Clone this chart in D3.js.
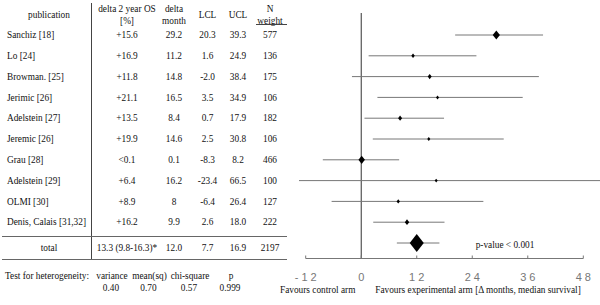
<!DOCTYPE html>
<html>
<head>
<meta charset="utf-8">
<script src="https://cdn.jsdelivr.net/npm/d3@7"></script>
<style>
  body { margin: 0; background: #fff; }
  svg { display: block; }
  .tbl text { font-family: "Liberation Serif", "Times New Roman", serif; font-size: 9.3px; fill: #111; }
  .tick-lbl { font-family: "Liberation Sans", Arial, sans-serif; font-size: 11px; fill: #777; letter-spacing: 3px; }
</style>
</head>
<body>
<div id="chart"></div>
<script>
// table / forest plot data
const publications = ["Sanchiz [18]", "Lo [24]", "Browman. [25]", "Jerimic [26]", "Adelstein [27]",
    "Jeremic [26]", "Grau [28]", "Adelstein [29]", "OLMI [30]", "Denis, Calais [31,32]"];
const deltaOS = ["+15.6", "+16.9", "+11.8", "+21.1", "+13.5", "+19.9", "<0.1", "+6.4", "+8.9", "+16.2"];
const deltaMonth = ["29.2", "11.2", "14.8", "16.5", "8.4", "14.6", "0.1", "16.2", "8", "9.9"];
const lcl = ["20.3", "1.6", "-2.0", "3.5", "0.7", "2.5", "-8.3", "-23.4", "-6.4", "2.6"];
const ucl = ["39.3", "24.9", "38.4", "34.9", "17.9", "30.8", "8.2", "66.5", "26.4", "18.0"];
const weights = ["577", "136", "175", "106", "182", "106", "466", "100", "127", "222"];

const total = {label: "total", os: "13.3 (9.8-16.3)*", month: "12.0", lcl: "7.7", ucl: "16.9", weight: "2197"};

const hetLabels = ["variance", "mean(sq)", "chi-square", "p"];
const hetValues = ["0.40", "0.70", "0.57", "0.999"];

const xTicks = [-12, 0, 12, 24, 36, 48];

const width = 600, height = 305;

const svg = d3.select("#chart").append("svg")
    .attr("width", width)
    .attr("height", height);

// row positions
const y = d3.scaleLinear().domain([0, 1]).range([35, 55.8]);
const totalIdx = publications.length;

// ---------- table ----------
const tbl = svg.append("g").attr("class", "tbl");

const cols = [
    {x: 127, lines: ["delta 2 year OS", "[%]"], vals: deltaOS, tot: total.os},
    {x: 174, lines: ["delta", "month"], vals: deltaMonth, tot: total.month},
    {x: 207.5, lines: ["LCL"], vals: lcl, tot: total.lcl},
    {x: 238, lines: ["UCL"], vals: ucl, tot: total.ucl},
    {x: 270, lines: ["N", "weight"], vals: weights, tot: total.weight}
];

tbl.append("text").attr("x", 49).attr("y", 15).attr("dy", "0.35em")
    .attr("text-anchor", "middle").text("publication");

cols.forEach(c => {
    c.lines.forEach((l, i) => {
        tbl.append("text")
            .attr("x", c.x)
            .attr("y", c.lines.length === 1 ? 15 : 9 + i * 12)
            .attr("dy", "0.35em")
            .attr("text-anchor", "middle")
            .text(l);
    });
    tbl.selectAll(null).data(c.vals).join("text")
        .attr("x", c.x)
        .attr("y", (d, i) => y(i))
        .attr("dy", "0.35em")
        .attr("text-anchor", "middle")
        .text(d => d);
    tbl.append("text")
        .attr("x", c.x)
        .attr("y", y(totalIdx) + 5)
        .attr("dy", "0.35em")
        .attr("text-anchor", "middle")
        .text(c.tot);
});

tbl.selectAll(".pub").data(publications).join("text")
    .attr("class", "pub")
    .attr("x", 7)
    .attr("y", (d, i) => y(i))
    .attr("dy", "0.35em")
    .text(d => d);

tbl.append("text").attr("x", 49).attr("y", y(totalIdx) + 5).attr("dy", "0.35em")
    .attr("text-anchor", "middle").text(total.label);

// table rules
tbl.append("line").attr("x1", 91.5).attr("x2", 91.5).attr("y1", 3).attr("y2", 260)
    .attr("stroke", "#444").attr("stroke-width", 1);
tbl.append("line").attr("x1", 256).attr("x2", 287).attr("y1", 24.5).attr("y2", 24.5)
    .attr("stroke", "#444").attr("stroke-width", 1);
[236.5, 259.5].forEach(ly => {
    tbl.append("line").attr("x1", 2).attr("x2", 287).attr("y1", ly).attr("y2", ly)
        .attr("stroke", "#666").attr("stroke-width", 1);
});

// heterogeneity
tbl.append("text").attr("x", 5).attr("y", 276).attr("dy", "0.35em").text("Test for heterogeneity:");
const hetX = [112, 149.5, 190, 231];
hetLabels.forEach((l, i) => {
    tbl.append("text").attr("x", hetX[i]).attr("y", 276).attr("dy", "0.35em")
        .attr("text-anchor", "middle").text(l);
    tbl.append("text").attr("x", hetX[i] - 1).attr("y", 288).attr("dy", "0.35em")
        .attr("text-anchor", "middle").text(hetValues[i]);
});

// ---------- forest plot ----------
const x = d3.scaleLinear().domain([-12, 48]).range([305.7, 583.3]);
const size = d3.scaleSqrt().domain([0, 2197]).range([0, 9]);
const axisY = 258.5;

svg.append("clipPath").attr("id", "plotClip")
    .append("rect").attr("x", 299).attr("y", 0).attr("width", 301).attr("height", height);

const plot = svg.append("g").attr("clip-path", "url(#plotClip)");

// zero line
plot.append("line")
    .attr("x1", x(0)).attr("x2", x(0))
    .attr("y1", 13).attr("y2", axisY)
    .attr("stroke", "#333").attr("stroke-width", 1);

const rows = publications.map((p, i) => ({
    y: y(i), mid: +deltaMonth[i], lo: +lcl[i], hi: +ucl[i], w: +weights[i]
}));
rows.push({y: y(totalIdx), mid: +total.month, lo: +total.lcl, hi: +total.ucl, w: +total.weight});

plot.selectAll(".ci").data(rows).join("line")
    .attr("class", "ci")
    .attr("x1", d => x(d.lo)).attr("x2", d => x(d.hi))
    .attr("y1", d => d.y).attr("y2", d => d.y)
    .attr("stroke", "#777").attr("stroke-width", 1);

plot.selectAll(".mark").data(rows).join("path")
    .attr("class", "mark")
    .attr("d", d => {
        const h = size(d.w), w = h * 0.78, cx = x(d.mid), cy = d.y;
        return `M${cx},${cy - h}L${cx + w},${cy}L${cx},${cy + h}L${cx - w},${cy}Z`;
    })
    .attr("fill", "#000");

// axis
const axis = svg.append("g");
axis.append("line")
    .attr("x1", x(-12)).attr("x2", x(48))
    .attr("y1", axisY).attr("y2", axisY)
    .attr("stroke", "#777");
axis.selectAll(".tk").data(xTicks).join("line")
    .attr("x1", d => x(d)).attr("x2", d => x(d))
    .attr("y1", axisY).attr("y2", axisY - 3)
    .attr("stroke", "#777");
axis.selectAll(".tick-lbl").data(xTicks).join("text")
    .attr("class", "tick-lbl")
    .attr("x", d => x(d) + 1.5)
    .attr("y", 277)
    .attr("dy", "0.35em")
    .attr("text-anchor", "middle")
    .text(d => d);

const notes = svg.append("g").attr("class", "tbl");
notes.append("text").attr("x", 505).attr("y", y(totalIdx) + 2).attr("dy", "0.35em")
    .attr("text-anchor", "middle").text("p-value < 0.001");
notes.append("text").attr("x", 280).attr("y", 290).attr("dy", "0.35em")
    .text("Favours control arm");
notes.append("text").attr("x", 478).attr("y", 290).attr("dy", "0.35em")
    .attr("text-anchor", "middle").text("Favours experimental arm [\u0394 months, median survival]");
</script>
</body>
</html>
